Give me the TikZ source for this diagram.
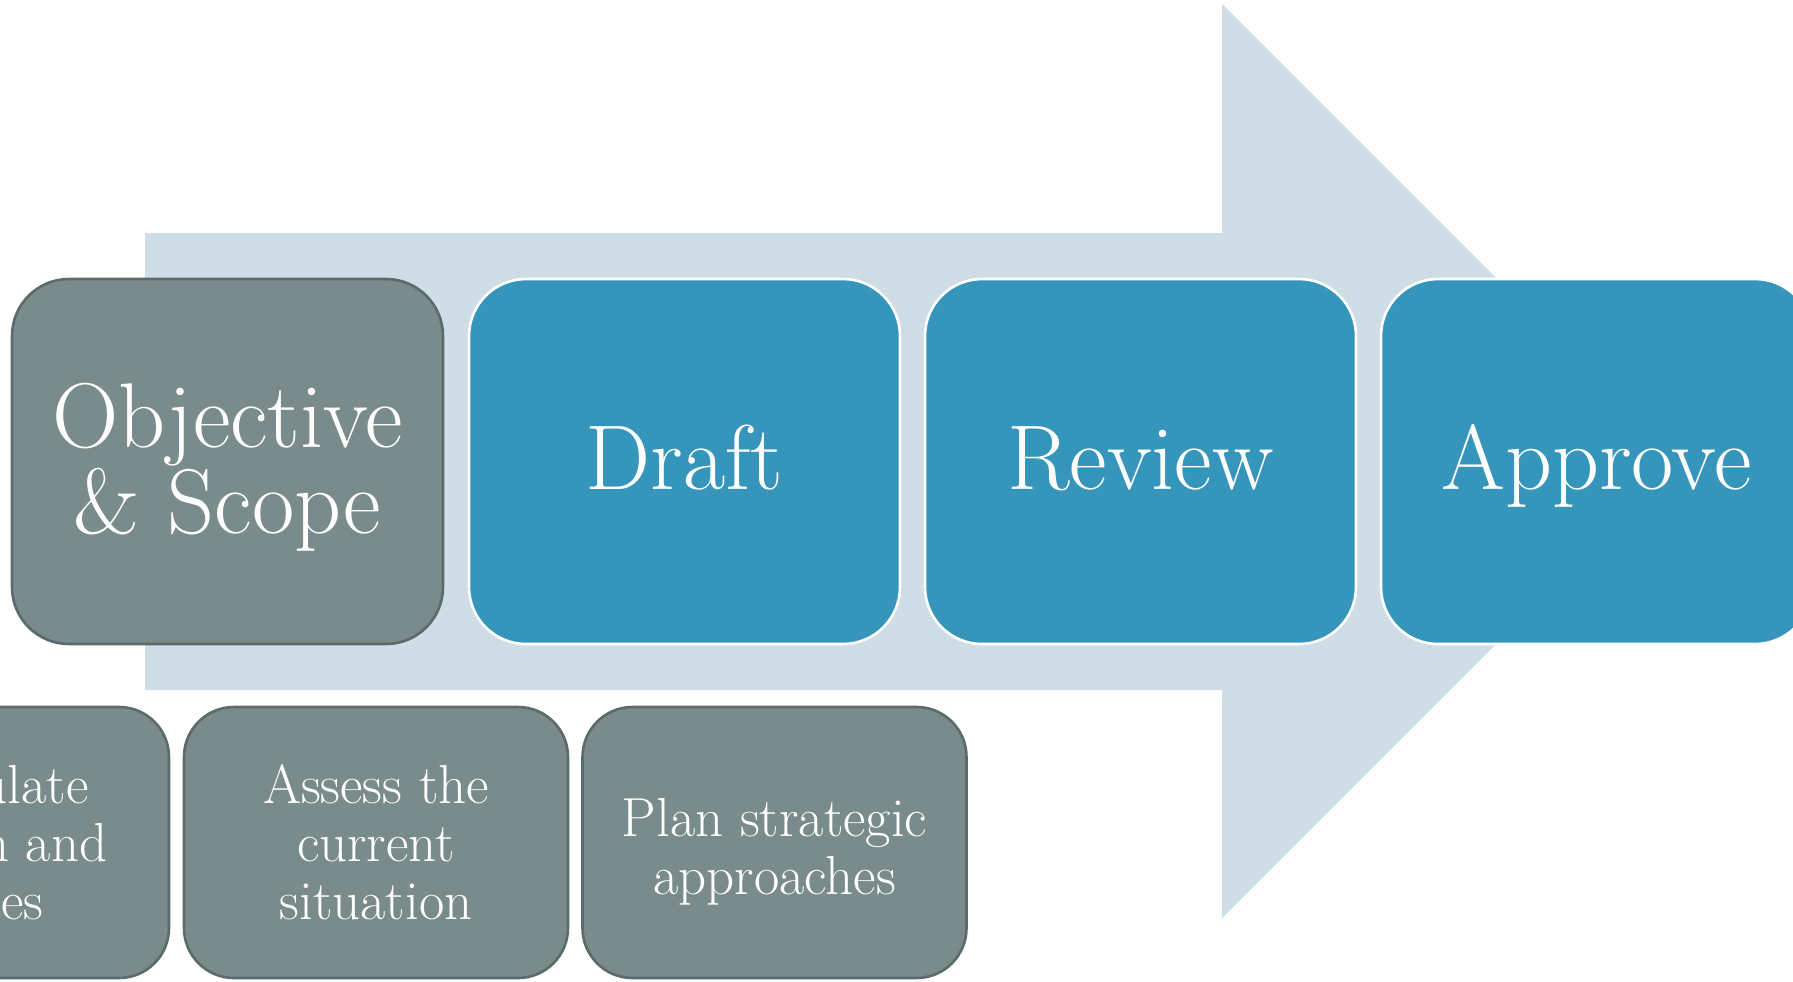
\documentclass[tikz,border=0pt]{standalone}
\usepackage{fontspec}
\definecolor{arrowbg}{HTML}{CFDDE7}
\definecolor{bluebox}{HTML}{3695BA}
\definecolor{graybox}{HTML}{7A8B8C}
\definecolor{grayedge}{HTML}{5B6A6B}
\tikzset{
  bigbox/.style={rounded corners=28.5pt, minimum width=215.5pt, minimum height=182.5pt,
    inner sep=0pt, align=center, text=white,
    font=\fontsize{46}{41.75}\selectfont},
  bluestage/.style={bigbox, fill=bluebox, draw=white, line width=1.3pt,
    text height=34.5pt, text depth=6.9pt},
  graystage/.style={bigbox, fill=graybox, draw=grayedge, line width=1.3pt},
  bigtext/.style={inner sep=0pt, align=center, text=white,
    font=\fontsize{46}{41.75}\selectfont},
  substep/.style={rounded corners=25pt, minimum width=192pt, minimum height=135.5pt,
    inner sep=0pt, align=center, text=white, fill=graybox, draw=grayedge, line width=1.3pt,
    font=\fontsize{27.5}{29}\selectfont},
  subtext/.style={inner sep=0pt, align=center, text=white,
    font=\fontsize{27.5}{29}\selectfont}
}
\begin{document}
\begin{tikzpicture}[x=0.5pt,y=-0.5pt]
\useasboundingbox (0,0) rectangle (1793,981);
\clip (0,0) rectangle (1793,981);
\fill[white] (0,0) rectangle (1793,981);
% big arrow
\coordinate (a1) at (145,233);
\coordinate (a2) at (1222,233);
\coordinate (a3) at (1222,4);
\coordinate (a4) at (1679,461);
\coordinate (a5) at (1222,918);
\coordinate (a6) at (1222,690);
\coordinate (a7) at (145,690);
\fill[arrowbg] (a1) -- (a2) -- (a3) -- (a4) -- (a5) -- (a6) -- (a7) -- cycle;
% stages
\node[graystage] (obj) at (227.5,461.5) {};
\node[bigtext] (objlabel) at ([yshift=-2.9pt]obj.center) {Objective\\\& Scope};
\node[bluestage] (draft) at (684.5,461.5) {Draft};
\node[bluestage] (review) at (1140.5,461.5) {Review};
\node[bluestage] (approve) at (1596.5,461.5) {Approve};
% sub steps
\node[substep] (s1) at (-23,842.5) {Formulate\\mission and\\values};
\node[substep] (s2) at (376,842.5) {Assess the\\current\\situation};
\node[substep] (s3) at (774.5,842.5) {};
\node[subtext] (s3label) at ([yshift=-4.5pt]s3.center) {Plan strategic\\approaches};
\end{tikzpicture}
\end{document}
